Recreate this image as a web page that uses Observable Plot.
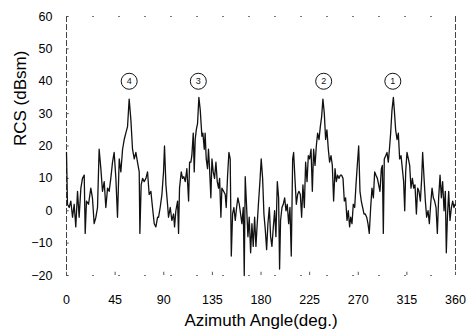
<!DOCTYPE html>
<html><head><meta charset="utf-8">
<script src="https://cdn.jsdelivr.net/npm/d3@7"></script>
<script src="https://cdn.jsdelivr.net/npm/@observablehq/plot@0.6"></script>
<style>
body{margin:0;background:#fff;}
#chart svg{font-family: Arial, "Liberation Sans", Helvetica, sans-serif;}
</style></head><body><div id="chart"></div>
<script>
const azimuth = [
 0.0,0.9,2.5,4.0,5.6,7.1,8.6,10.2,11.7,13.3,14.8,16.4,17.3,18.5,20.4,22.5,24.0,25.6,27.2,28.7,
 30.2,31.8,33.3,34.9,36.4,38.0,39.5,41.0,42.6,44.1,45.7,47.2,48.8,50.3,51.9,53.4,54.9,56.5,58.0,59.6,
 61.1,62.7,64.2,65.7,67.3,67.9,69.1,70.4,71.9,73.5,75.0,76.5,78.1,79.6,81.2,82.7,84.3,
 85.2,86.7,88.3,89.8,90.7,92.0,93.5,94.4,96.0,97.5,99.1,100.0,101.2,102.8,103.7,104.6,106.2,107.4,108.6,109.9,
 111.4,113.0,113.9,115.1,116.0,117.3,118.2,119.1,120.1,121.3,122.5,123.8,125.3,126.2,127.5,128.3,129.3,130.5,131.4,132.4,
 133.6,134.6,135.8,137.0,138.3,139.5,140.7,141.7,142.9,143.8,145.4,146.9,147.8,149.1,150.3,151.5,152.5,153.7,154.9,156.2,
 157.4,158.6,159.9,161.1,162.3,163.6,164.5,165.4,166.7,167.9,169.1,170.4,171.6,172.8,
 174.1,175.3,176.5,177.8,179.0,180.2,181.5,182.7,184.0,185.2,186.4,187.7,188.9,190.1,191.4,192.6,193.8,195.1,196.3,197.2,
 198.1,199.4,200.6,201.9,203.1,204.3,205.6,206.8,208.0,209.3,210.2,211.4,212.7,213.9,215.1,216.4,217.6,218.8,220.1,221.3,
 222.6,223.8,225.0,226.3,227.5,228.7,230.0,231.2,232.4,233.7,234.9,236.1,237.3,238.6,239.8,241.0,242.3,243.5,244.8,246.0,
 247.2,248.5,249.7,250.9,252.2,253.4,254.6,255.9,257.1,258.3,259.6,260.8,262.0,
 263.0,264.2,265.4,266.7,267.9,269.1,270.4,271.6,272.8,274.1,275.3,276.5,277.8,279.0,280.2,281.5,282.7,284.0,285.2,286.4,
 287.7,288.9,290.1,291.4,292.3,293.2,294.1,295.4,296.6,297.8,299.1,300.0,301.2,302.5,303.4,304.6,305.9,307.1,308.3,309.6,
 310.8,312.0,313.0,313.9,315.1,316.4,317.6,318.8,320.1,321.3,322.5,323.8,325.0,326.2,327.5,328.7,329.6,330.9,332.1,333.3,
 334.6,335.8,337.0,338.3,339.5,340.7,342.0,343.2,344.4,345.7,346.9,348.1,349.4,350.6,351.5,352.5,353.7,354.9,356.2,357.4,
 358.6,359.6
];
const rcs = [
 18,2,1,3,-2,2,-5,6,-2,7,10,11,-7,3,2,7,4,-4,-2,1,
 19,13,6,9,1,7,6,10,15,18,10,-2,16,12,19,22,24,26,34.5,28,
 19,16,18,15,12,-7,8,10,9,10,12,5,6,1,-4,-5,-2,
 -2,1,5,12,20,8,2,-2,1,-3,-1,-5,0,3,-7,7,12,10,10.5,9,
 13,3,15,15,17,24,12,22,25,27,35,31,23,24,19,24,16,13,19,13,
 4,16,12,10,15,9,7,10,-2,7,6,5,1,11,18,16,-14,-1,1,-3,
 1,4,2,-1,-4,1,-20,10.5,1,-8,-2,-13,-4,-11,
 -2,-11,-4,3,9,16,10,-1,-6,-12,-4,1,-8,-11,-5,0,-8,9,4,-18,
 -3,1,2,4,0,2,-4,1,-14,16,18,10,2,5,6,5,-2,8,1,15,
 9,17,16,19,6,19,14,20,24,22,26,29,34.5,30,22,25,19,15,17,14,
 3,13,9,11,10,11,11,10,3,4,-3,0,-5,
 -2,-4,2,1,8,14,20,6,3,1,-1,-1,-2,-4,-7,1,7,4,12,11,
 10,8,6,13,14,-7,16,17,18,15,20,24,31,35,31,25,22,24,16,17,
 13,9,0,12,18,16,14,7,10,7,8,-1,7,6,3,10,18,10,3,-2,
 0,-4,2,7,4,3,1,-7,4,11,4,9,0,6,-13,-2,6,-3,1,3,
 1,2
];
const xTicks = [0,45,90,135,180,225,270,315,360];
const yTicks = [-20,-10,0,10,20,30,40,50,60];
const peakAngles = [302, 238, 122, 58];
const peakLabels = ["1","2","3","4"];
const labelLevel = [40,40,40,40];
const xTitle = "Azimuth Angle(deg.)";
const yTitle = "RCS (dBsm)";

const series = azimuth.map((a,i)=>({a, v: rcs[i]}));
const peaks = peakAngles.map((a,i)=>({a, v: labelLevel[i], t: peakLabels[i]}));

const chart = Plot.plot({
  width: 474, height: 336,
  marginLeft: 66, marginRight: 19, marginTop: 16, marginBottom: 61,
  style: {fontFamily: "Arial, 'Liberation Sans', Helvetica, sans-serif", fontSize: "12px", background: "white", color: "#000"},
  x: {domain: [0,360]},
  y: {domain: [-20,60]},
  marks: [
    Plot.ruleX([0,360], {stroke: "#444", strokeDasharray: "6,2", strokeWidth: 1}),
    Plot.ruleY([-20,60], {stroke: "#777", strokeDasharray: "2,24", strokeWidth: 1}),
    Plot.ruleX(xTicks, {x: d=>d, y1: -20, y2: -19, stroke: "#555"}),
    Plot.ruleY(yTicks, {y: d=>d, x1: 0, x2: 2.5, stroke: "#555"}),
    Plot.axisX({ticks: xTicks, tickSize: 0, tickPadding: 20, fontSize: 12.5, label: null, fill: "#000"}),
    Plot.axisY({ticks: yTicks, tickSize: 0, tickPadding: 14, fontSize: 12.5, label: null, fill: "#000", tickFormat: d => d < 0 ? "\u2212" + Math.abs(d) : String(d)}),
    Plot.line(series, {x: "a", y: "v", stroke: "#111", strokeWidth: 1.3}),
    Plot.dot(peaks, {x: "a", y: "v", r: 8, stroke: "#111", fill: "white", strokeWidth: 1}),
    Plot.text(peaks, {x: "a", y: "v", text: "t", fontSize: 9, fill: "#111"}),
    Plot.text([xTitle], {frameAnchor: "bottom", dy: 50, fontSize: 17, fill: "#000"}),
    Plot.text([yTitle], {frameAnchor: "left", dx: -46, rotate: -90, fontSize: 17, fill: "#000"})
  ]
});
document.getElementById("chart").appendChild(chart);
</script>
</body></html>
